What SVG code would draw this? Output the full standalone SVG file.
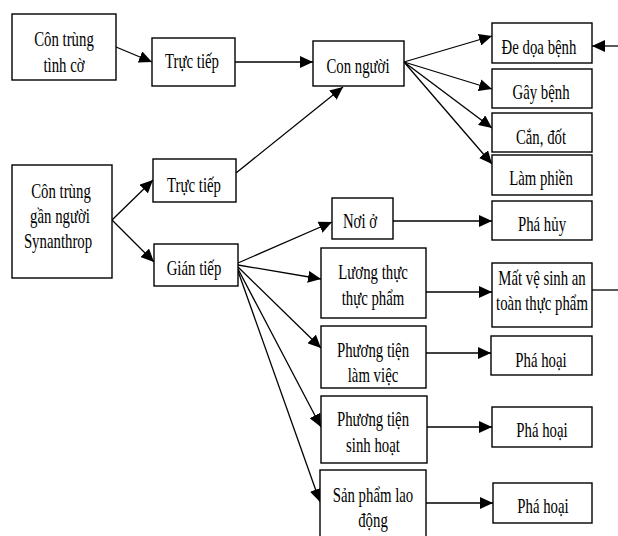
<svg xmlns="http://www.w3.org/2000/svg" width="618" height="536" viewBox="0 0 618 536">
<style>
.box{fill:#fff;stroke:#000;stroke-width:1.4}
.t{font-family:"Liberation Serif","Times New Roman",serif;font-size:21px;fill:#000;text-anchor:middle}
.c{stroke:#000;stroke-width:1.3;fill:none}
.a{marker-end:url(#ah)}
</style>
<defs>
<marker id="ah" markerUnits="userSpaceOnUse" markerWidth="13" markerHeight="12" refX="13" refY="6" orient="auto">
<path d="M0,0 L13,6 L0,12 z" fill="#000"/>
</marker>
</defs>
<rect width="618" height="536" fill="#fff"/>
<g id="connectors">
<line class="c a" x1="116" y1="47" x2="152" y2="62"/>
<line class="c a" x1="235" y1="62" x2="313" y2="62"/>
<line class="c a" x1="236" y1="173" x2="343" y2="87"/>
<line class="c a" x1="112" y1="220" x2="153" y2="180"/>
<line class="c a" x1="112" y1="220" x2="154" y2="262"/>
<line class="c a" x1="404" y1="62" x2="492" y2="36"/>
<line class="c a" x1="404" y1="62" x2="492" y2="89"/>
<line class="c a" x1="404" y1="62" x2="492" y2="128"/>
<line class="c a" x1="404" y1="62" x2="492" y2="164"/>
<line class="c a" x1="618" y1="46" x2="592" y2="46"/>
<line class="c a" x1="238" y1="263" x2="332" y2="222"/>
<line class="c a" x1="238" y1="265" x2="321" y2="279"/>
<line class="c a" x1="238" y1="267" x2="321" y2="348"/>
<line class="c a" x1="238" y1="269" x2="321" y2="427"/>
<line class="c a" x1="238" y1="271" x2="320" y2="502"/>
<line class="c a" x1="393" y1="221" x2="492" y2="221"/>
<line class="c a" x1="426" y1="292" x2="492" y2="292"/>
<line class="c" x1="592" y1="290" x2="618" y2="290"/>
<line class="c a" x1="426" y1="353" x2="491" y2="353"/>
<line class="c a" x1="427" y1="427" x2="492" y2="427"/>
<line class="c a" x1="426" y1="503" x2="493" y2="503"/>
</g>
<g id="n-tinhco">
<rect class="box" x="12" y="14" width="104" height="66"/>
<text class="t" transform="translate(64,46) scale(0.705,1)">Côn trùng</text>
<text class="t" transform="translate(64,72) scale(0.705,1)">tình cờ</text>
</g>
<g id="n-tructiep1">
<rect class="box" x="152" y="38" width="83" height="48"/>
<text class="t" transform="translate(192,68) scale(0.705,1)">Trực tiếp</text>
</g>
<g id="n-connguoi">
<rect class="box" x="313" y="41" width="91" height="45"/>
<text class="t" transform="translate(358,73) scale(0.705,1)">Con người</text>
</g>
<g id="n-dedoa">
<rect class="box" x="492" y="23" width="100" height="40"/>
<text class="t" transform="translate(539,54) scale(0.705,1)">Đe dọa bệnh</text>
</g>
<g id="n-gaybenh">
<rect class="box" x="492" y="69" width="100" height="39"/>
<text class="t" transform="translate(541,99) scale(0.705,1)">Gây bệnh</text>
</g>
<g id="n-candot">
<rect class="box" x="492" y="113" width="100" height="39"/>
<text class="t" transform="translate(541,144) scale(0.705,1)">Cắn, đốt</text>
</g>
<g id="n-lamphien">
<rect class="box" x="492" y="155" width="100" height="40"/>
<text class="t" transform="translate(541,185) scale(0.705,1)">Làm phiền</text>
</g>
<g id="n-synanthrop">
<rect class="box" x="12" y="165" width="100" height="113"/>
<text class="t" transform="translate(61,198) scale(0.705,1)">Côn trùng</text>
<text class="t" transform="translate(60,223) scale(0.705,1)">gần người</text>
<text class="t" transform="translate(58,248) scale(0.705,1)">Synanthrop</text>
</g>
<g id="n-tructiep2">
<rect class="box" x="153" y="159" width="83" height="43"/>
<text class="t" transform="translate(194,192) scale(0.705,1)">Trực tiếp</text>
</g>
<g id="n-giantiep">
<rect class="box" x="154" y="244" width="84" height="42"/>
<text class="t" transform="translate(194,275) scale(0.705,1)">Gián tiếp</text>
</g>
<g id="n-noio">
<rect class="box" x="332" y="198" width="61" height="41"/>
<text class="t" transform="translate(360,228) scale(0.705,1)">Nơi ở</text>
</g>
<g id="n-phahuy">
<rect class="box" x="492" y="201" width="100" height="39"/>
<text class="t" transform="translate(542,231) scale(0.705,1)">Phá hủy</text>
</g>
<g id="n-luongthuc">
<rect class="box" x="321" y="248" width="105" height="70"/>
<text class="t" transform="translate(373,279) scale(0.705,1)">Lương thực</text>
<text class="t" transform="translate(373,305) scale(0.705,1)">thực phẩm</text>
</g>
<g id="n-matvesinh">
<rect class="box" x="492" y="263" width="100" height="64"/>
<text class="t" transform="translate(542,285) scale(0.705,1)">Mất vệ sinh an</text>
<text class="t" transform="translate(542,310) scale(0.705,1)">toàn thực phẩm</text>
</g>
<g id="n-ptlamviec">
<rect class="box" x="321" y="326" width="105" height="62"/>
<text class="t" transform="translate(373,357) scale(0.705,1)">Phương tiện</text>
<text class="t" transform="translate(373,382) scale(0.705,1)">làm việc</text>
</g>
<g id="n-phahoai1">
<rect class="box" x="491" y="336" width="101" height="39"/>
<text class="t" transform="translate(541,367) scale(0.705,1)">Phá hoại</text>
</g>
<g id="n-ptsinhhoat">
<rect class="box" x="321" y="396" width="106" height="67"/>
<text class="t" transform="translate(373,426) scale(0.705,1)">Phương tiện</text>
<text class="t" transform="translate(373,452) scale(0.705,1)">sinh hoạt</text>
</g>
<g id="n-phahoai2">
<rect class="box" x="492" y="407" width="100" height="40"/>
<text class="t" transform="translate(542,437) scale(0.705,1)">Phá hoại</text>
</g>
<g id="n-sanpham">
<rect class="box" x="320" y="470" width="106" height="72"/>
<text class="t" transform="translate(373,502) scale(0.705,1)">Sản phẩm lao</text>
<text class="t" transform="translate(373,527) scale(0.705,1)">động</text>
</g>
<g id="n-phahoai3">
<rect class="box" x="493" y="483" width="99" height="40"/>
<text class="t" transform="translate(543,513) scale(0.705,1)">Phá hoại</text>
</g>
</svg>
